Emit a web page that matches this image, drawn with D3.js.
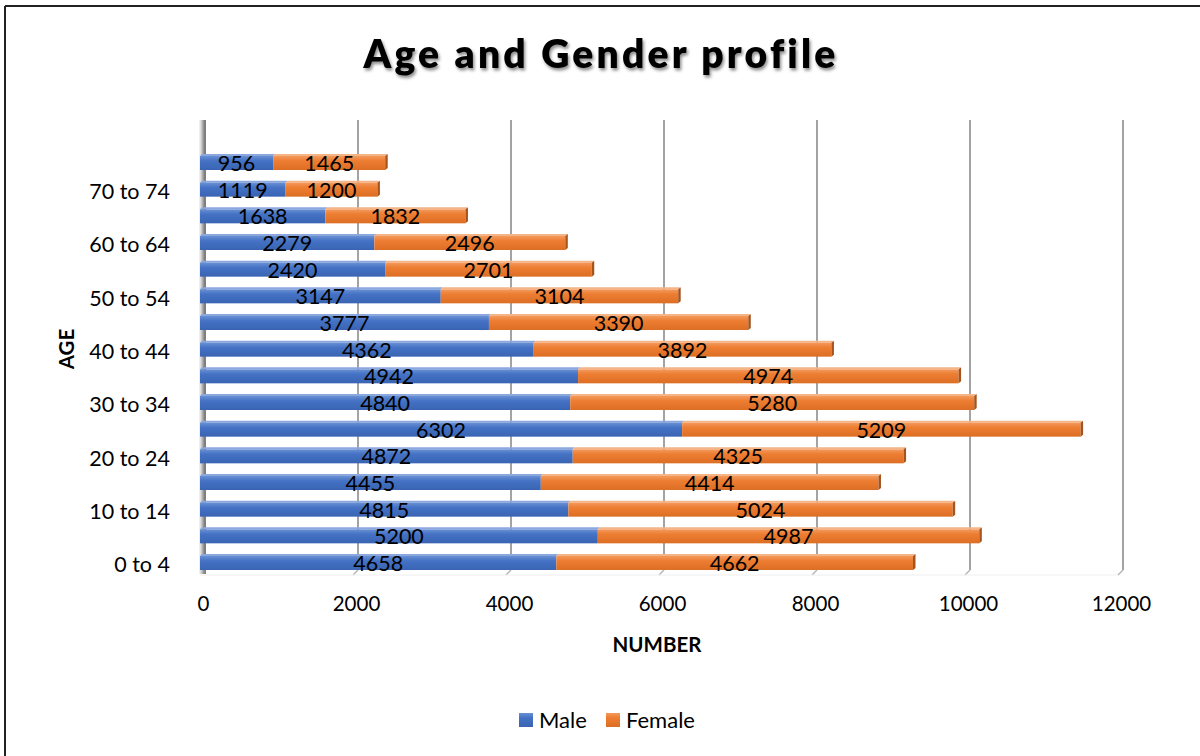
<!DOCTYPE html>
<html>
<head>
<meta charset="utf-8">
<script src="https://cdn.jsdelivr.net/npm/d3@7"></script>
<style>
  html, body { margin: 0; padding: 0; background: #fff; }
  svg { display: block; }
</style>
</head>
<body>
<svg id="chart" width="1200" height="756"></svg>
<script>
// Age bands (bottom to top) and population counts by gender
const ageGroups = ["0 to 4", "5 to 9", "10 to 14", "15 to 19", "20 to 24", "25 to 29",
  "30 to 34", "35 to 39", "40 to 44", "45 to 49", "50 to 54", "55 to 59",
  "60 to 64", "65 to 69", "70 to 74", "75 to 79"];
const male = [4658, 5200, 4815, 4455, 4872, 6302, 4840, 4942, 4362, 3777, 3147, 2420, 2279, 1638, 1119, 956];
const female = [4662, 4987, 5024, 4414, 4325, 5209, 5280, 4974, 3892, 3390, 3104, 2701, 2496, 1832, 1200, 1465];
const seriesNames = ["Male", "Female"];
const xTicks = [0, 2000, 4000, 6000, 8000, 10000, 12000];
const shownAgeLabels = ["0 to 4", "10 to 14", "20 to 24", "30 to 34", "40 to 44", "50 to 54", "60 to 64", "70 to 74"];

const font = "Lato, 'Open Sans', sans-serif";

const svg = d3.select("#chart");

// outer frame (top and left edges)
svg.append("line").attr("x1", 5).attr("x2", 1200).attr("y1", 6).attr("y2", 6)
  .attr("stroke", "#222").attr("stroke-width", 2);
svg.append("line").attr("x1", 5).attr("x2", 5).attr("y1", 6).attr("y2", 756)
  .attr("stroke", "#222").attr("stroke-width", 2);

const defs = svg.append("defs");
function barGradient(id, light, mid, dark) {
  const g = defs.append("linearGradient").attr("id", id)
    .attr("x1", 0).attr("y1", 0).attr("x2", 0).attr("y2", 1);
  g.append("stop").attr("offset", "0%").attr("stop-color", light);
  g.append("stop").attr("offset", "35%").attr("stop-color", mid);
  g.append("stop").attr("offset", "100%").attr("stop-color", dark);
}
barGradient("gMale", "#6a90d4", "#4472C4", "#3a64b3");
barGradient("gFemale", "#f39a5e", "#ED7D31", "#dc6e25");

const wallGrad = defs.append("linearGradient").attr("id", "wall")
  .attr("x1", 0).attr("y1", 0).attr("x2", 1).attr("y2", 0);
wallGrad.append("stop").attr("offset", "0%").attr("stop-color", "#cfcfcf").attr("stop-opacity", 0.2);
wallGrad.append("stop").attr("offset", "60%").attr("stop-color", "#9a9a9a");
wallGrad.append("stop").attr("offset", "100%").attr("stop-color", "#7a7a7a");

const shadow = defs.append("filter").attr("id", "tshadow")
  .attr("x", "-10%").attr("y", "-20%").attr("width", "120%").attr("height", "150%");
shadow.append("feDropShadow").attr("dx", 1.5).attr("dy", 2.5).attr("stdDeviation", 1.6)
  .attr("flood-color", "#000").attr("flood-opacity", 0.45);

// scales
const x = d3.scaleLinear().domain([0, 12000]).range([200, 1118]);
const y = d3.scalePoint().domain(ageGroups).range([563, 163]);
const barH = 14;
const depth = 5; // 3D offset of the back wall

const plotTop = 120, floorY = 570;

// back-wall gridlines
const grid = svg.append("g");
xTicks.forEach((t, i) => {
  const gx = x(t) + depth;
  if (i === 0) return;
  grid.append("line").attr("x1", gx).attr("x2", gx).attr("y1", plotTop).attr("y2", floorY)
    .attr("stroke", "#8c8c8c").attr("stroke-width", 1.6);
  grid.append("line").attr("x1", gx).attr("x2", gx - depth).attr("y1", floorY).attr("y2", floorY + 5)
    .attr("stroke", "#b5b5b5").attr("stroke-width", 1.4);
});
// faint floor line
svg.append("line").attr("x1", x(0)).attr("x2", x(12000)).attr("y1", floorY + 5).attr("y2", floorY + 5)
  .attr("stroke", "#eeeeee").attr("stroke-width", 1);

// side wall at zero
svg.append("rect").attr("x", x(0) - 1).attr("y", plotTop).attr("width", depth + 2).attr("height", floorY - plotTop + 4)
  .attr("fill", "url(#wall)");
svg.append("line").attr("x1", x(0) + depth).attr("x2", x(0) + depth).attr("y1", plotTop).attr("y2", floorY)
  .attr("stroke", "#7d7d7d").attr("stroke-width", 1.4);

// stacked bars
const rows = ageGroups.map((a, i) => ({ age: a, Male: male[i], Female: female[i] }));
const stack = d3.stack().keys(seriesNames)(rows);

const barsG = svg.append("g");
stack.forEach(layer => {
  const key = layer.key;
  const g = barsG.append("g");
  layer.forEach(d => {
    const cy = y(d.data.age);
    const x0 = x(d[0]), x1 = x(d[1]);
    // thin top face
    g.append("path")
      .attr("d", `M${x0},${cy - barH / 2} L${x0 + 2},${cy - barH / 2 - 2} L${x1 + 2},${cy - barH / 2 - 2} L${x1},${cy - barH / 2} Z`)
      .attr("fill", key === "Male" ? "#8aa8de" : "#f5b486");
    // front face
    g.append("rect").attr("x", x0).attr("y", cy - barH / 2)
      .attr("width", x1 - x0).attr("height", barH)
      .attr("fill", key === "Male" ? "url(#gMale)" : "url(#gFemale)");
    // end cap on the outer segment
    if (key === "Female") {
      g.append("path")
        .attr("d", `M${x1},${cy - barH / 2} L${x1 + 2.5},${cy - barH / 2 - 2} L${x1 + 2.5},${cy + barH / 2 - 2} L${x1},${cy + barH / 2} Z`)
        .attr("fill", "#a6531c");
    }
  });
});

// data labels, centred in each segment
const labelsG = svg.append("g").attr("font-family", font).attr("font-size", 21.5).attr("fill", "#000");
stack.forEach(layer => {
  layer.forEach(d => {
    labelsG.append("text")
      .attr("x", (x(d[0]) + x(d[1])) / 2)
      .attr("y", y(d.data.age) + 8)
      .attr("text-anchor", "middle")
      .text(d.data[layer.key]);
  });
});

// x axis tick labels
const xAxis = d3.axisBottom(x).tickValues(xTicks).tickSize(0).tickPadding(0).tickFormat(d3.format("d"));
const xg = svg.append("g").attr("transform", `translate(3, 596)`).call(xAxis);
xg.select(".domain").remove();
xg.selectAll("text").attr("font-family", font).attr("font-size", 20.5).attr("fill", "#000").attr("dy", "0.71em");

// y axis tick labels (every other age band)
const yAxis = d3.axisLeft(y).tickValues(shownAgeLabels).tickSize(0).tickPadding(0);
const yg = svg.append("g").attr("transform", `translate(170, 2)`).call(yAxis);
yg.select(".domain").remove();
yg.selectAll("text").attr("font-family", font).attr("font-size", 21.5).attr("fill", "#000");

// title
svg.append("text").attr("x", 601).attr("y", 68).attr("text-anchor", "middle")
  .attr("font-family", font).attr("font-weight", 800).attr("font-size", 39)
  .attr("letter-spacing", 3.2).attr("filter", "url(#tshadow)")
  .text("Age and Gender profile");

// axis titles
svg.append("text").attr("x", 657).attr("y", 652).attr("text-anchor", "middle")
  .attr("font-family", font).attr("font-weight", 700).attr("font-size", 20.5).text("NUMBER");
svg.append("text").attr("transform", "translate(74, 349) rotate(-90)").attr("text-anchor", "middle")
  .attr("font-family", font).attr("font-weight", 700).attr("font-size", 20.5).text("AGE");

// legend
const legend = svg.append("g").attr("font-family", font).attr("font-size", 22);
const legendX = [519, 606];
seriesNames.forEach((s, i) => {
  legend.append("rect").attr("x", legendX[i]).attr("y", 713).attr("width", 14).attr("height", 14)
    .attr("fill", s === "Male" ? "url(#gMale)" : "url(#gFemale)");
  legend.append("text").attr("x", legendX[i] + 20).attr("y", 727.5).text(s);
});
</script>
</body>
</html>
